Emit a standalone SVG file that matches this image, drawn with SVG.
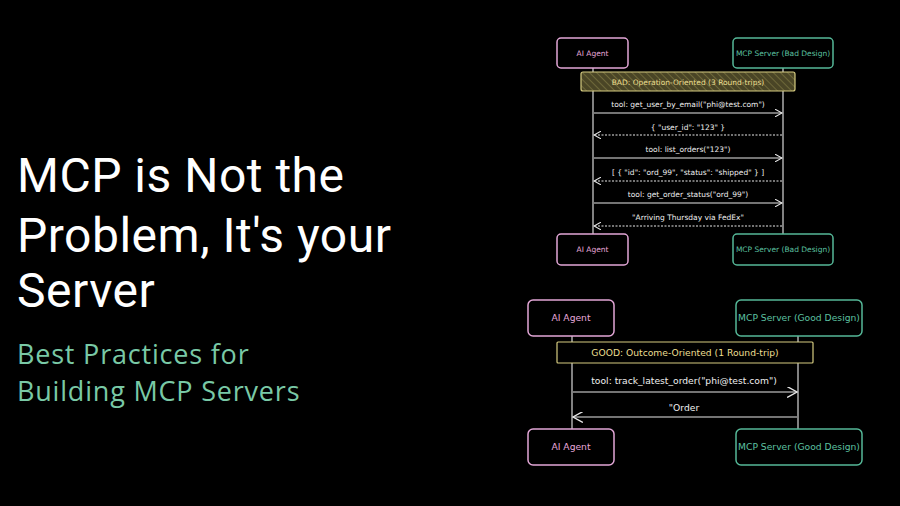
<svg xmlns="http://www.w3.org/2000/svg" width="900" height="506" viewBox="0 0 900 506">
<defs>
<marker id="ah" viewBox="0 0 10 10" refX="9" refY="5" markerWidth="8" markerHeight="8" markerUnits="userSpaceOnUse" orient="auto-start-reverse">
<path d="M0,0 L9,5 L0,10" fill="none" stroke="#e8e8e8" stroke-width="1.3"/>
</marker>
<marker id="ah2" viewBox="0 0 10 10" refX="9" refY="5" markerWidth="11" markerHeight="11" markerUnits="userSpaceOnUse" orient="auto-start-reverse">
<path d="M0,0 L9,5 L0,10" fill="none" stroke="#e8e8e8" stroke-width="1.2"/>
</marker>
<pattern id="hatch" width="5" height="5" patternUnits="userSpaceOnUse" patternTransform="rotate(-45)">
<rect width="5" height="5" fill="#4a4526"/>
<line x1="0" y1="0" x2="0" y2="5" stroke="#7a7440" stroke-width="1.5"/>
</pattern>
</defs>
<style>
.title{font-family:Roboto,"Open Sans",sans-serif;font-size:48px;letter-spacing:0.5px;fill:#ffffff}
.sub{font-family:"Open Sans",Roboto,sans-serif;font-size:27px;letter-spacing:0.8px;fill:#79c9a6}
.agent{fill:none;stroke:#e2a6d6;stroke-width:1.5}
.srv{fill:none;stroke:#55b898;stroke-width:1.5}
.ta{font-family:"DejaVu Sans",sans-serif;fill:#e8a8da;text-anchor:middle}
.ts{font-family:"DejaVu Sans",sans-serif;fill:#5cc0a0;text-anchor:middle}
.life{stroke:#d8d8d8;stroke-width:1.2}
.msg{stroke:#e8e8e8;stroke-width:1.2;fill:none}
.dash{stroke-dasharray:2 1.5}
.lbl{font-family:"DejaVu Sans",sans-serif;fill:#f0f0f0;text-anchor:middle}
.s1{font-size:7.5px}
.s2{font-size:9.2px}
.ban{font-family:"DejaVu Sans",sans-serif;fill:#ecdf90;text-anchor:middle}
</style>
<rect width="900" height="506" fill="#000000"/>

<g id="title">
<text class="title" x="17" y="192">MCP is Not the</text>
<text class="title" x="17" y="252">Problem, It's your</text>
<text class="title" x="17" y="307">Server</text>
<text class="sub" x="17" y="364">Best Practices for</text>
<text class="sub" x="17" y="401">Building MCP Servers</text>
</g>

<!-- Top (bad) diagram -->
<g id="connectors-bad">
<line class="life" x1="593" y1="68" x2="593" y2="234"/>
<line class="life" x1="783" y1="68" x2="783" y2="234"/>
<line class="msg" x1="594" y1="113" x2="782" y2="113" marker-end="url(#ah)"/>
<line class="msg dash" x1="782" y1="135" x2="594" y2="135" marker-end="url(#ah)"/>
<line class="msg" x1="594" y1="158" x2="782" y2="158" marker-end="url(#ah)"/>
<line class="msg dash" x1="782" y1="181" x2="594" y2="181" marker-end="url(#ah)"/>
<line class="msg" x1="594" y1="203" x2="782" y2="203" marker-end="url(#ah)"/>
<line class="msg dash" x1="782" y1="226" x2="594" y2="226" marker-end="url(#ah)"/>
<text class="lbl s1" x="688" y="107">tool: get_user_by_email("phi@test.com")</text>
<text class="lbl s1" x="688" y="130">{ "user_id": "123" }</text>
<text class="lbl s1" x="688" y="152">tool: list_orders("123")</text>
<text class="lbl s1" x="688" y="175">[ { "id": "ord_99", "status": "shipped" } ]</text>
<text class="lbl s1" x="688" y="197">tool: get_order_status("ord_99")</text>
<text class="lbl s1" x="688" y="220">"Arriving Thursday via FedEx"</text>
</g>
<g id="bad-banner">
<rect x="581" y="72" width="214" height="19" rx="2" fill="url(#hatch)" stroke="#d6cc80" stroke-width="1.2"/>
<text class="ban s1" x="688" y="84.5">BAD: Operation-Oriented (3 Round-trips)</text>
</g>
<g id="bad-agent-top">
<rect class="agent" x="557" y="38" width="71" height="30" rx="4"/>
<text class="ta s1" x="592.5" y="55.5">AI Agent</text>
</g>
<g id="bad-server-top">
<rect class="srv" x="733" y="38" width="100" height="30" rx="4"/>
<text class="ts s1" x="783" y="55.5">MCP Server (Bad Design)</text>
</g>
<g id="bad-agent-bottom">
<rect class="agent" x="557" y="234" width="71" height="31" rx="4"/>
<text class="ta s1" x="592.5" y="252">AI Agent</text>
</g>
<g id="bad-server-bottom">
<rect class="srv" x="733" y="234" width="100" height="31" rx="4"/>
<text class="ts s1" x="783" y="252">MCP Server (Bad Design)</text>
</g>

<!-- Bottom (good) diagram -->
<g id="connectors-good">
<line class="life" x1="572" y1="336" x2="572" y2="429"/>
<line class="life" x1="798" y1="336" x2="798" y2="429"/>
<line class="msg" x1="573" y1="392" x2="797" y2="392" marker-end="url(#ah2)"/>
<line class="msg" x1="797" y1="417" x2="573" y2="417" marker-end="url(#ah2)"/>
<text class="lbl s2" x="684" y="384">tool: track_latest_order("phi@test.com")</text>
<text class="lbl s2" x="684" y="411">"Order</text>
</g>
<g id="good-banner">
<rect x="557" y="342" width="256" height="21" rx="1" fill="#000000" stroke="#d6cc80" stroke-width="1.2"/>
<text class="ban s2" x="685" y="356">GOOD: Outcome-Oriented (1 Round-trip)</text>
</g>
<g id="good-agent-top">
<rect class="agent" x="528" y="300" width="86" height="36" rx="5"/>
<text class="ta s2" x="571" y="321">AI Agent</text>
</g>
<g id="good-server-top">
<rect class="srv" x="736" y="300" width="126" height="36" rx="5"/>
<text class="ts s2" x="799" y="321">MCP Server (Good Design)</text>
</g>
<g id="good-agent-bottom">
<rect class="agent" x="528" y="429" width="86" height="36" rx="5"/>
<text class="ta s2" x="571" y="450">AI Agent</text>
</g>
<g id="good-server-bottom">
<rect class="srv" x="736" y="429" width="126" height="36" rx="5"/>
<text class="ts s2" x="799" y="450">MCP Server (Good Design)</text>
</g>
</svg>
